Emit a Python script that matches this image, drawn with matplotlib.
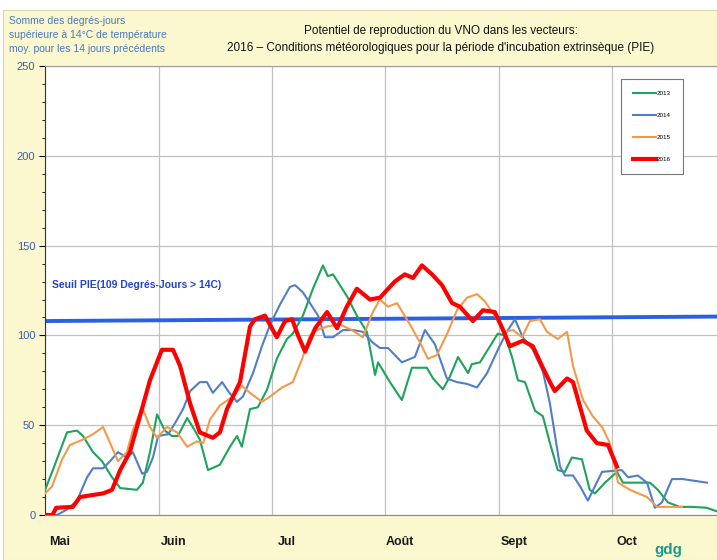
import matplotlib
matplotlib.use("Agg")
import matplotlib.pyplot as plt
from matplotlib.patches import Rectangle

plt.rcParams['font.family'] = ['Liberation Sans Narrow', 'Liberation Sans', 'DejaVu Sans']

# jours depuis le 1er mai (mois de 30.5 jours, comme sur le graphique)
mois = ["Mai", "Juin", "Jul", "Août", "Sept", "Oct"]
jours_mois = [0, 30.5, 61, 91.5, 122, 152.5]

j2013 = [0, 2.1, 5.9, 8.6, 10.2, 12.9, 15.3, 18, 20.2, 24.7, 26.3, 28.2, 30.1, 32.2, 34.1, 35.7,
         38.2, 40.3, 41.6, 43.8, 47, 49.7, 51.6, 52.9, 55.1, 57.2, 59.7, 62.3, 65, 66.6, 69.3, 72,
         74.7, 76, 77.4, 81.1, 83.8, 86.5, 88.7, 89.5, 92.7, 95.9, 98.6, 102.6, 104.3, 106.9, 108.8,
         111, 113.7, 114.7, 116.9, 119.6, 121.7, 123.6, 125.5, 127.1, 129, 131.7, 133.8, 135.7,
         137.8, 139.7, 141.6, 144.3, 146.4, 147.8, 150.5, 153.7, 155.3, 162.6, 164.7, 167.4,
         170.6, 174.1, 177.9, 180.6]
v2013 = [14, 25, 46, 47, 44, 35, 30, 21, 15, 14, 18, 35, 56, 47, 44, 44,
         54, 47, 42, 25, 28, 38, 44, 38, 59, 60, 70, 87, 98, 101, 111, 126,
         139, 133, 134, 122, 111, 102, 78, 85, 74, 64, 82, 82, 76, 70, 77,
         88, 79, 84, 85, 94, 101, 100, 88, 75, 74, 58, 55, 40,
         25, 24, 32, 31, 14, 12, 18, 24, 18, 18, 14, 7,
         4.5, 4.5, 4, 2]

j2014 = [0, 3.2, 5.9, 8.6, 11.3, 12.9, 15.6, 17.5, 19.6, 22, 23.6, 26.1, 27.4, 29, 30.4, 33.1,
         34.9, 37.1, 39, 41.6, 43.5, 45.1, 47.6, 49.2, 51.6, 53.2, 55.9, 58.3, 60.5, 63.1, 65.8,
         67.2, 69.3, 71.2, 73.4, 75.2, 77.4, 80.1, 82.8, 85.4, 88.1, 90, 92.2, 95.9, 99.4, 102.1,
         104.8, 108, 110.7, 113.4, 116.1, 118.8, 121.7, 124.1, 126.3, 128.4, 131.1, 133.8, 135.7,
         138.4, 139.7, 141.9, 143.8, 145.9, 147.8, 149.7, 155, 156.7, 159.3, 161.8, 163.9, 165.8,
         168.5, 171.4, 177.9]
v2014 = [0, 0, 3, 8, 21, 26, 26, 30, 35, 32, 35, 23, 24, 32, 44, 45,
         51, 59, 69, 74, 74, 68, 74, 69, 63, 66, 79, 94, 106, 117, 127,
         128, 124, 118, 111, 99, 99, 103, 103, 102, 96, 93, 93, 85, 88, 103,
         95, 76, 74, 73, 71, 79, 92, 102, 109, 99, 92, 80, 62,
         27, 22, 22, 16, 8, 16, 24, 25, 21, 22, 18, 4, 7,
         20, 20, 18]

j2015 = [0, 1.9, 4.6, 6.7, 10.2, 12.9, 15.6, 17.5, 19.6, 22, 23.6, 26.1, 28.2, 30.1, 32.8, 35.5,
         38.2, 40.8, 42.5, 44.3, 47, 50.5, 52.9, 55.1, 58.3, 60.5, 63.7, 66.6, 69.1, 71.2, 73.1,
         75.8, 79.3, 82.5, 85.4, 88.1, 90, 92.2, 94.6, 98.1, 100.8, 102.9, 105.3, 108.3, 110.7,
         113.4, 116.1, 118.2, 121.5, 123.6, 125.8, 128.2, 130.3, 133, 134.9, 137.8, 140.3, 141.9,
         144.6, 147.2, 149.7, 151.8, 154, 157.2, 161.8, 164.5, 167.9, 171.2]
v2015 = [12, 16, 31, 39, 42, 45, 49, 40, 30, 35, 47, 60, 49, 43, 49, 46,
         38, 41, 40, 53, 61, 66, 72, 68, 63, 66, 71, 74, 87, 100, 103,
         105, 106, 103, 99, 113, 120, 116, 118, 106, 96, 87, 89, 102, 114,
         121, 123, 119, 109, 102, 103, 99, 108, 109, 102, 98, 102, 83,
         64, 55, 49, 40, 18, 14, 10, 4.5, 4.5, 4.5]

j2016 = [0, 2, 3, 7.5, 9.4, 15.6, 18, 20.2, 22.8, 25.5, 28.2, 31.4, 34.4, 36.3, 39, 41.6,
         45.1, 47, 48.9, 52.4, 55.1, 56.4, 59.1, 62.3, 64.5, 66.4, 68, 69.9, 72.6, 75.8, 78.5,
         81.1, 83.8, 87.3, 90, 94, 96.7, 98.9, 101.3, 104, 106.7, 109.4, 111.5, 115, 117.7,
         120.9, 123.1, 124.9, 128.4, 131.1, 133.8, 135.7, 137, 140.3, 141.9, 145.6, 148.3,
         151.3, 153.7]
v2016 = [0, 0, 4, 4.5, 10, 12, 14, 25, 35, 55, 75, 92, 92, 83, 62, 46,
         43, 46, 59, 74, 105, 109, 111, 99, 108, 109, 100, 91, 104, 113, 104,
         116, 126, 120, 121, 130, 134, 132, 139, 134, 128, 118, 116, 108, 114,
         113, 103, 94, 97, 94, 82, 74, 69, 76, 74, 47, 40,
         39, 27]

seuil_x = [0, 180.6]
seuil_y = [108, 110.5]

fig = plt.figure(figsize=(7.17, 5.6), dpi=100, facecolor="white")
fig.patches.append(Rectangle((0.004, 0), 0.996, 0.982, transform=fig.transFigure,
                             facecolor="#fbf8cf", edgecolor="#d8d6b0", lw=0.8, zorder=-5))

ax = fig.add_axes([0.0628, 0.0804, 0.9372, 0.8016])
ax.set_zorder(2)
ax.set_facecolor("white")

ax.plot(seuil_x, seuil_y, color="#2a5fe6", lw=2.8, zorder=2)
ax.plot(j2013, v2013, color="#1ea35a", lw=1.5, label="2013", zorder=3)
ax.plot(j2014, v2014, color="#4f7fc6", lw=1.5, label="2014", zorder=3)
ax.plot(j2015, v2015, color="#f29a4a", lw=1.5, label="2015", zorder=3)
ax.plot(j2016, v2016, color="#ff0000", lw=3.0, label="2016", zorder=4)

ax.text(2, 128, "Seuil PIE(109 Degrés-Jours > 14C)", color="#2244cc", fontsize=7.5,
        fontweight="bold", family=["Liberation Sans", "DejaVu Sans"], va="center")

ax.set_xlim(0, 180.6)
ax.set_ylim(0, 250)
ax.set_yticks(range(0, 251, 50))
ax.set_yticks(range(0, 251, 10), minor=True)
ax.set_xticks(jours_mois)
ax.set_xticklabels([])
ax.set_xticks([j + 4 for j in jours_mois], minor=True)
ax.set_xticklabels(mois, minor=True, fontsize=9, fontweight="bold", color="#1a1a1a")
ax.tick_params(axis="x", which="both", length=0)
ax.tick_params(axis="x", which="minor", pad=15)
ax.tick_params(axis="y", which="major", length=4, labelsize=8, labelcolor="#3b5fa8", pad=3)
ax.tick_params(axis="y", which="minor", length=2)
ax.grid(True, which="major", color="#c0c0c0", lw=0.9)
ax.set_axisbelow(True)
ax.spines["right"].set_visible(False)
ax.spines["top"].set_color("#9a9a9a")
ax.spines["bottom"].set_color("#8a8a8a")
ax.spines["left"].set_color("#333333")

leg = ax.legend(loc="upper left", bbox_to_anchor=(0.853, 0.978), fontsize=4.5,
                handlelength=3.6, labelspacing=2.65, borderpad=1.9, handletextpad=0.2,
                frameon=True, fancybox=False, framealpha=1)
leg.get_frame().set_edgecolor("#777777")
leg.get_frame().set_linewidth(0.8)

fig.text(0.012, 0.972, "Somme des degrés-jours\nsupérieure à 14°C de température\nmoy. pour les 14 jours précédents",
         color="#4a78c0", fontsize=7.5, va="top", ha="left", linespacing=1.5)
fig.text(0.615, 0.956, "Potentiel de reproduction du VNO dans les vecteurs:\n"
         "2016 – Conditions météorologiques pour la période d'incubation extrinsèque (PIE)",
         color="#111111", fontsize=8.5, va="top", ha="center", linespacing=1.6)
fig.text(0.913, 0.005, "gdg", color="#1e9a8a", fontsize=11, fontweight="bold", ha="left", va="bottom")

fig.savefig("out.png", dpi=100, facecolor=fig.get_facecolor())
